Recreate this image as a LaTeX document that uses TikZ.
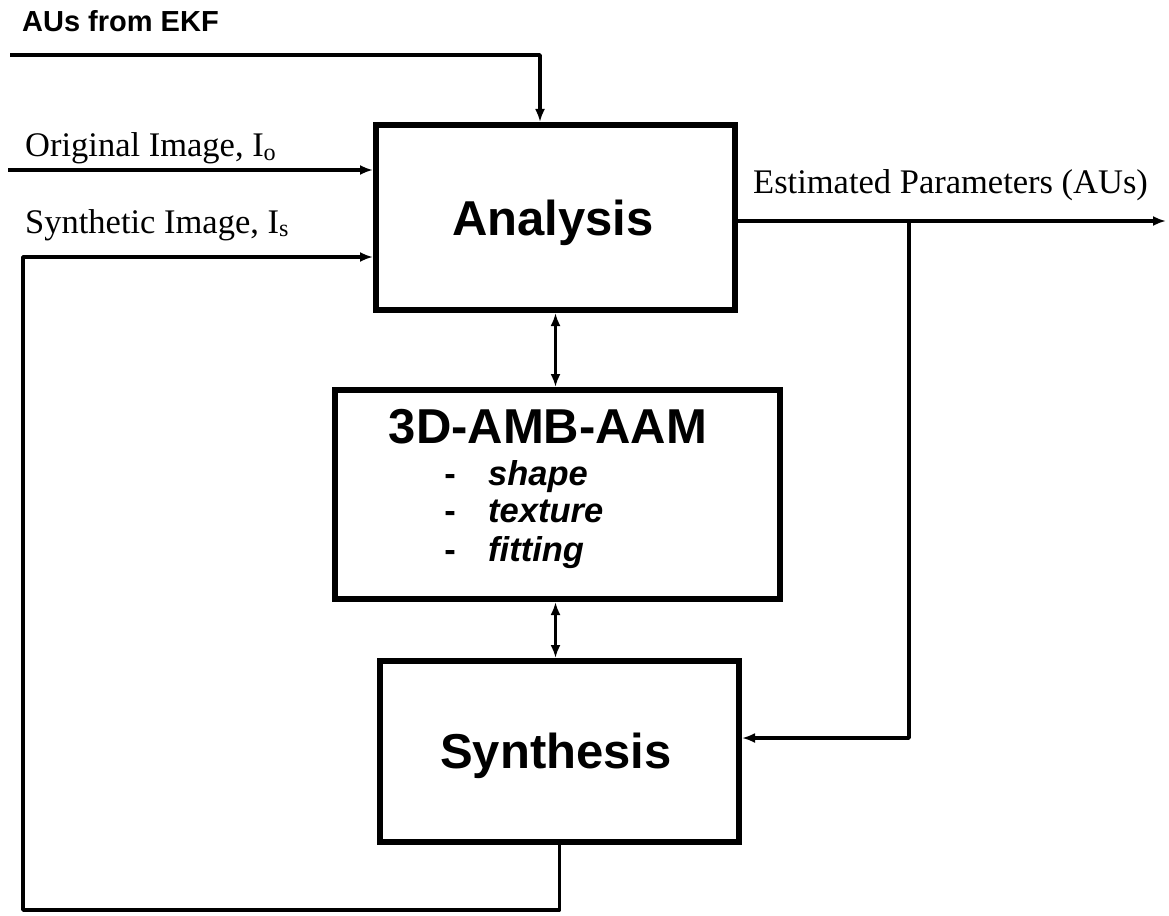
\documentclass[tikz,border=0pt]{standalone}
\usepackage{fontspec}
\setmainfont{Liberation Serif}
\newfontfamily\arialfont{Liberation Sans}
\usetikzlibrary{arrows.meta,calc}

\begin{document}
\begin{tikzpicture}[x=1pt,y=-1pt,
  block/.style={draw, line width=6pt, inner sep=0pt, fill=white},
  conn/.style={line width=3.5pt, line join=round},
  tipend/.style={-{Latex[length=13pt,width=10pt]}},
  tipboth/.style={{Latex[length=13pt,width=10pt]}-{Latex[length=13pt,width=10pt]}},
  boxtitle/.style={font=\arialfont\bfseries\fontsize{49}{52}\selectfont, inner sep=0pt},
  itemtxt/.style={font=\arialfont\bfseries\itshape\fontsize{34.5}{36}\selectfont, inner sep=0pt, anchor=base west},
  dashtxt/.style={font=\arialfont\bfseries\fontsize{34.5}{36}\selectfont, inner sep=0pt, anchor=base},
  siglabel/.style={font=\fontsize{34.5}{36}\selectfont, inner sep=0pt, anchor=base west},
  headlabel/.style={font=\arialfont\bfseries\fontsize{29}{31}\selectfont, inner sep=0pt, anchor=base west}]

\useasboundingbox (0,0) rectangle (1169,915);

% processing blocks
\node[block, minimum width=359pt, minimum height=185pt] (analysis) at (555.5,217.5) {};
\node[block, minimum width=445pt, minimum height=209pt] (model) at (557.5,494.5) {};
\node[block, minimum width=359pt, minimum height=181pt] (synth) at (559.5,751.5) {};

% block texts
\node[boxtitle, anchor=base] (antitle) at (553,235) {Analysis};
\node[boxtitle, anchor=base] (mtitle) at (548,443) {3D-AMB-AAM};
\node[dashtxt] (d1) at (450,485) {-};
\node[dashtxt] (d2) at (450,522) {-};
\node[dashtxt] (d3) at (450,561) {-};
\node[itemtxt] (i1) at (488,485) {shape};
\node[itemtxt] (i2) at (488,522) {texture};
\node[itemtxt] (i3) at (488,561) {fitting};
\node[boxtitle, anchor=base] (sytitle) at (556,768) {Synthesis};

% signal labels
\node[headlabel] (ekflbl) at (22,32) {AUs from EKF};
\node[siglabel] (origlbl) at (25,157) {Original Image, I\textsubscript{o}};
\node[siglabel] (synlbl) at (25,233) {Synthetic Image, I\textsubscript{s}};
\node[siglabel] (estlbl) at (753,193) {Estimated Parameters (AUs)};

% connector end points and bends
\coordinate (ekfin) at (10,55);
\coordinate (ekfbend) at (540,55);
\coordinate (origin) at (8,170);
\coordinate (loopcorner) at (23,910);
\coordinate (loopup) at (23,257);
\coordinate (estout) at (1166,221);
\coordinate (branch) at (909,221);
\coordinate (branchdown) at (909,738);

% connectors
\draw[conn, tipend] (ekfin) -- (ekfbend) -- (ekfbend |- analysis.north);
\draw[conn, tipend] (origin) -- (origin -| analysis.west);
\draw[conn, tipend] (synth.south) |- (loopcorner) -- (loopup) -- (loopup -| analysis.west);
\draw[conn, tipend] (estout -| analysis.east) -- (estout);
\draw[conn, tipend] (branch) -- (branchdown) -- (branchdown -| synth.east);
\draw[conn, tipboth] (analysis.south) -- (analysis.south |- model.north);
\draw[conn, tipboth] (model.south -| analysis.south) -- (analysis.south |- synth.north);

\end{tikzpicture}
\end{document}
